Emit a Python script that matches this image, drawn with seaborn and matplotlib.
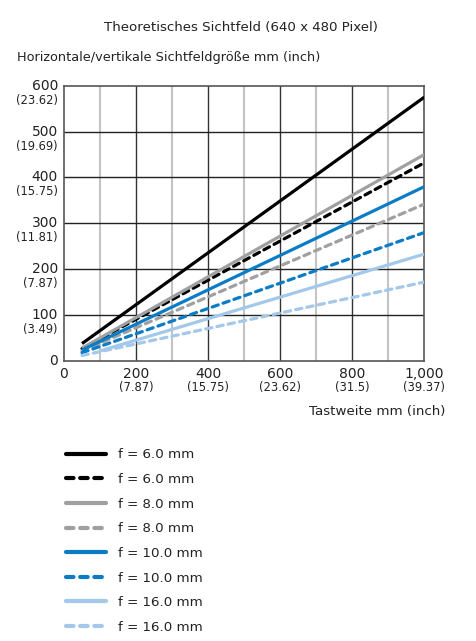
import matplotlib
matplotlib.use("Agg")
import matplotlib.pyplot as plt
import matplotlib.transforms as mtransforms
from matplotlib.lines import Line2D
import seaborn as sns
import pandas as pd

sns.set_theme(style="white")
plt.rcParams['font.family'] = ['DejaVu Sans']

# ---- data ----
labels = ["f = 6.0 mm", "f = 6.0 mm", "f = 8.0 mm", "f = 8.0 mm",
          "f = 10.0 mm", "f = 10.0 mm", "f = 16.0 mm", "f = 16.0 mm"]
x_start = [50, 50, 50, 50, 50, 50, 100, 50]
x_end = [1000, 1000, 1000, 1000, 1000, 1000, 1000, 1000]
y_start = [38, 27, 28, 22, 24, 18, 22, 12]
y_end = [575, 432, 450, 342, 380, 280, 233, 172]
colors = ["#000000", "#000000", "#a0a0a0", "#a0a0a0",
          "#0a7cc6", "#0a7cc6", "#a3c8ea", "#a3c8ea"]
dashed = [False, True, False, True, False, True, False, True]

x_ticks = [0, 200, 400, 600, 800, 1000]
x_tick_labels = ["0", "200", "400", "600", "800", "1,000"]
x_inch_labels = ["", "(7.87)", "(15.75)", "(23.62)", "(31.5)", "(39.37)"]
y_ticks = [0, 100, 200, 300, 400, 500, 600]
y_tick_labels = ["0", "100", "200", "300", "400", "500", "600"]
y_inch_labels = ["", "(3.49)", "(7.87)", "(11.81)", "(15.75)", "(19.69)", "(23.62)"]

title = "Theoretisches Sichtfeld (640 x 480 Pixel)"
y_title = "Horizontale/vertikale Sichtfeldgröße mm (inch)"
x_title = "Tastweite mm (inch)"

# ---- figure ----
W, H = 477, 641
fig = plt.figure(figsize=(W / 100, H / 100), dpi=100)
ax = fig.add_axes([64 / W, 1 - 361 / H, (424.3 - 64) / W, (361 - 85.7) / H])

LW = 2.3
handles = []
for i in range(len(labels)):
    df = pd.DataFrame({"x": [x_start[i], x_end[i]], "y": [y_start[i], y_end[i]]})
    ls = (0, (2.0, 1.6)) if dashed[i] else "-"
    sns.lineplot(data=df, x="x", y="y", ax=ax, color=colors[i], linewidth=LW,
                 linestyle=ls, solid_capstyle="butt", dash_capstyle="round",
                 zorder=3, legend=False)
    handles.append(Line2D([0], [0], color=colors[i], linewidth=LW + 0.7,
                          linestyle=(0, (1.8, 1.6)) if dashed[i] else "-",
                          solid_capstyle="round", dash_capstyle="round"))

ax.set_xlim(0, 1000)
ax.set_ylim(0, 600)
ax.set_xlabel("")
ax.set_ylabel("")

# grid
for xv in range(100, 1000, 100):
    if xv % 200 == 0:
        ax.axvline(xv, color="#333333", lw=1.0, zorder=1)
    else:
        ax.axvline(xv, color="#c4c4c4", lw=1.5, zorder=1)
for yv in range(100, 600, 100):
    ax.axhline(yv, color="#222222", lw=1.0, zorder=1)
for s in ax.spines.values():
    s.set_color("#555555")
    s.set_linewidth(1.2)

ax.set_xticks(x_ticks)
ax.set_yticks(y_ticks)
ax.set_xticklabels([])
ax.set_yticklabels([])
ax.tick_params(length=0)

num_fs = 10
inch_fs = 8.3
tcol = "#222222"
ytrans = mtransforms.blended_transform_factory(ax.transAxes, ax.transData)
for yv, lab, inch in zip(y_ticks, y_tick_labels, y_inch_labels):
    ax.text(-6 / 360.3, yv, lab, transform=ytrans,
            ha="right", va="center", fontsize=num_fs, color=tcol)
    if inch:
        ax.text(-6 / 360.3, yv, inch,
                transform=ytrans + mtransforms.ScaledTranslation(0, -0.145, fig.dpi_scale_trans),
                ha="right", va="center", fontsize=inch_fs, color=tcol)
xtrans = mtransforms.blended_transform_factory(ax.transData, ax.transAxes)
for xv, lab, inch in zip(x_ticks, x_tick_labels, x_inch_labels):
    ax.text(xv, 0, lab, transform=xtrans + mtransforms.ScaledTranslation(0, -0.125, fig.dpi_scale_trans),
            ha="center", va="center", fontsize=num_fs, color=tcol)
    if inch:
        ax.text(xv, 0, inch, transform=xtrans + mtransforms.ScaledTranslation(0, -0.27, fig.dpi_scale_trans),
                ha="center", va="center", fontsize=inch_fs, color=tcol)

fig.text(241 / W, 1 - 27 / H, title, ha="center", va="center", fontsize=9.6, color=tcol)
fig.text(17 / W, 1 - 57 / H, y_title, ha="left", va="center", fontsize=9.3, color=tcol)
fig.text(445 / W, 1 - 411 / H, x_title, ha="right", va="center", fontsize=9.6, color=tcol)

leg = fig.legend(handles, labels, loc="upper left", bbox_to_anchor=(66 / W, 1 - 448.5 / H),
                 frameon=False, fontsize=9.6, handlelength=3.0, handletextpad=0.9,
                 labelspacing=0.87, borderaxespad=0, borderpad=0)
for t in leg.get_texts():
    t.set_color(tcol)

fig.savefig("out.png", dpi=100)
